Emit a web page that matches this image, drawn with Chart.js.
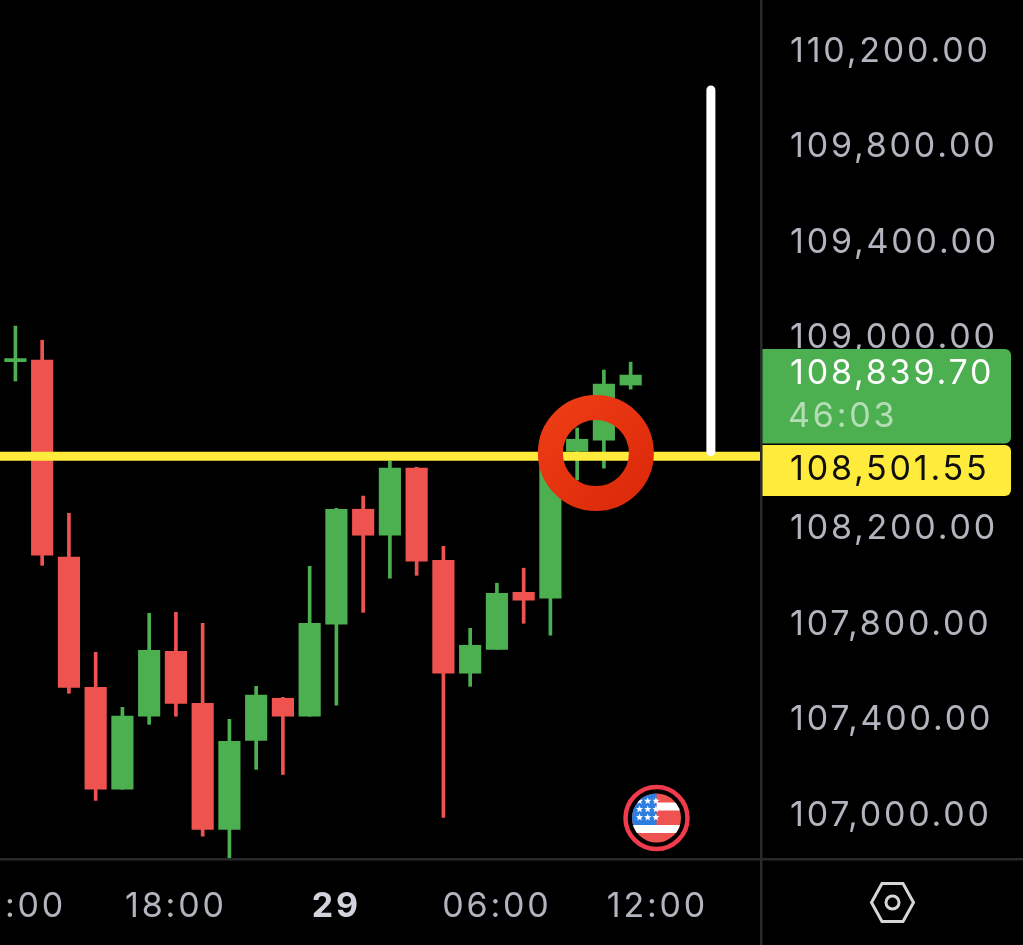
<!DOCTYPE html>
<html><head><meta charset="utf-8">
<style>html,body{margin:0;padding:0;background:#000;overflow:hidden}canvas{display:block}</style>
<script src="https://cdn.jsdelivr.net/npm/chart.js@4"></script>
</head><body><canvas id="c" width="1023" height="945"></canvas>
<script>
const hours  = [-6,-5,-4,-3,-2,-1,0,1,2,3,4,5,6,7,8,9,10,11,12,13,14,15,16,17];
const opens  = [108892,108899,108073,107528,107101,107407,107679,107461,106933,107306,107482,107407,107792,108274,108165,108446,108060,107587,107687,107926,107901,108517,108563,108794];
const closes = [108905,108081,107528,107101,107407,107683,107461,106933,107302,107495,107407,107796,108274,108165,108446,108056,107587,107704,107922,107893,108517,108567,108798,108836];
const highs  = [109041,108982,108257,107675,107444,107838,107842,107796,107394,107532,107486,108035,108278,108329,108475,108450,108119,107775,107964,108027,108517,108614,108857,108890];
const lows   = [108811,108039,107503,107054,107101,107373,107407,106904,106805,107184,107163,107407,107453,107842,107985,107997,106983,107532,107687,107796,107746,108396,108446,108777];
const xTickValues = [-6,0,6,12,18];
const xTickLabels = ['12:00','18:00','29','06:00','12:00'];
const yTickValues = [110200,109800,109400,109000,108200,107800,107400,107000];
const levelDrawn = 108496;
const levelLabel = '108,501.55';
const lastLabel = '108,839.70';
const countdown = '46:03';
const arrowTop = 110030;
const arrowBottom = 108515;
const arrowX = 20;
const ringX = 15.7;
const ringY = 108509;
const xMin = -6.576, xMax = 21.836, yMin = 106813, yMax = 110407;
const UP = '#4CAF50', DOWN = '#EF5350', TICK = '#B2B5BE', FONT = 'Inter, "Liberation Sans", sans-serif';

const colors = opens.map((o,i)=> closes[i] >= o ? UP : DOWN);
const fmt = v => v.toLocaleString('en-US',{minimumFractionDigits:2,maximumFractionDigits:2});

const canvas = document.getElementById('c');
const cx = canvas.getContext('2d');
const ringGrad = cx.createLinearGradient(540,396,650,510);
ringGrad.addColorStop(0,'#EE4016'); ringGrad.addColorStop(0.5,'#E5320F'); ringGrad.addColorStop(1,'#D9280A');

const decor = {
  id:'decor',
  beforeDraw(chart){ chart.ctx.letterSpacing='2.8px'; },
  afterDraw(chart){
    const c = chart.ctx;
    c.save();
    // frame lines
    c.fillStyle = '#2A2A2C';
    c.fillRect(760,0,2.5,945);
    c.fillRect(0,858,1023,2.5);
    // price tags
    c.fillStyle = UP;
    c.beginPath(); c.roundRect(762.5,349,248.5,94.5,[0,6,6,0]); c.fill();
    c.fillStyle = '#FFEB3B';
    c.beginPath(); c.roundRect(762.5,445,248.5,51,[0,6,6,0]); c.fill();
    c.font = '34px '+FONT; c.textBaseline='middle'; c.textAlign='left';
    c.fillStyle = '#FFFFFF'; c.fillText(lastLabel,790,374);
    c.fillStyle = 'rgba(255,255,255,0.58)'; c.fillText(countdown,788,417);
    c.fillStyle = '#0E0E0E'; c.fillText(levelLabel,790,469.5);
    // flag badge
    const fx=656.5, fy=818;
    c.strokeStyle='#EF3B4B'; c.lineWidth=4.5;
    c.beginPath(); c.arc(fx,fy,31,0,Math.PI*2); c.stroke();
    c.save();
    c.beginPath(); c.arc(fx,fy,24.5,0,Math.PI*2); c.clip();
    c.fillStyle='#EF5350'; c.fillRect(fx-26,fy-26,52,52);
    c.fillStyle='#FFFFFF'; c.fillRect(fx,fy-15.5,26,8); c.fillRect(fx-26,fy+7,52,8);
    c.fillStyle='#2E7DE0'; c.fillRect(fx-26,fy-26,26,33);
    c.fillStyle='#FFFFFF';
    for(let r=0;r<3;r++) for(let k=0;k<3;k++){
      const sx=fx-17+k*8.2, sy=fy-17+r*8.2;
      c.beginPath();
      for(let p=0;p<10;p++){
        const rad=p%2?1.6:3.8, a=-Math.PI/2+p*Math.PI/5;
        c.lineTo(sx+rad*Math.cos(a),sy+rad*Math.sin(a));
      }
      c.closePath(); c.fill();
    }
    c.restore();
    // hexagon settings icon
    const hx=892.5, hy=902.5;
    c.strokeStyle='#D6D6D6'; c.lineWidth=3;
    c.beginPath();
    [[-21,0],[-10.5,-19],[10.5,-19],[21,0],[10.5,19],[-10.5,19]].forEach(p=>c.lineTo(hx+p[0],hy+p[1]));
    c.closePath(); c.stroke();
    c.beginPath(); c.arc(hx,hy,6.5,0,Math.PI*2); c.stroke();
    c.restore();
  }
};

new Chart(canvas,{
  data:{datasets:[
    {type:'scatter',order:0,data:[{x:ringX,y:ringY}],pointRadius:45.5,pointHoverRadius:45.5,pointBorderWidth:25,
     pointBorderColor:ringGrad,pointBackgroundColor:'rgba(0,0,0,0)',showLine:false,clip:false},
    {type:'line',order:1,data:[{x:arrowX,y:arrowTop},{x:arrowX,y:arrowBottom}],borderColor:'#FFFFFF',borderWidth:9,
     borderCapStyle:'round',pointRadius:0,clip:false},
    {type:'line',order:2,data:[{x:xMin,y:levelDrawn},{x:xMax,y:levelDrawn}],borderColor:'#FFEB3B',borderWidth:9,pointRadius:0},
    {type:'bar',order:3,grouped:false,barThickness:21.5,data:hours.map((h,i)=>({x:h,y:[opens[i],closes[i]]})),backgroundColor:colors,borderWidth:0},
    {type:'bar',order:4,grouped:false,barThickness:3,data:hours.map((h,i)=>({x:h,y:[lows[i],highs[i]]})),backgroundColor:colors,borderWidth:0}
  ]},
  plugins:[decor],
  options:{
    responsive:false,animation:false,devicePixelRatio:1,
    layout:{padding:0,autoPadding:false},
    plugins:{legend:{display:false},tooltip:{enabled:false}},
    events:[],
    scales:{
      x:{type:'linear',offset:false,min:xMin,max:xMax,
        grid:{display:false,drawTicks:false,offset:false},border:{display:false},
        afterBuildTicks(a){a.ticks=xTickValues.map(v=>({value:v}));},
        afterFit(a){a.height=87;a.paddingLeft=0;a.paddingRight=0;},
        ticks:{autoSkip:false,maxRotation:0,minRotation:0,padding:28,
          color:ctx=>ctx.tick.value===6?'#D1D4DC':TICK,
          font:ctx=>({family:FONT,size:34,weight:ctx.tick&&ctx.tick.value===6?'bold':'normal'}),
          callback:v=>xTickLabels[xTickValues.indexOf(v)]}},
      y:{type:'linear',offset:false,position:'right',min:yMin,max:yMax,
        grid:{display:false,drawTicks:false},border:{display:false},
        afterBuildTicks(a){a.ticks=yTickValues.map(v=>({value:v}));},
        afterFit(a){a.width=263;a.paddingTop=0;a.paddingBottom=0;},
        ticks:{autoSkip:false,padding:30,crossAlign:'near',labelOffset:2,color:TICK,
          font:{family:FONT,size:34},callback:v=>fmt(v)}}
    }
  }
});
</script></body></html>
